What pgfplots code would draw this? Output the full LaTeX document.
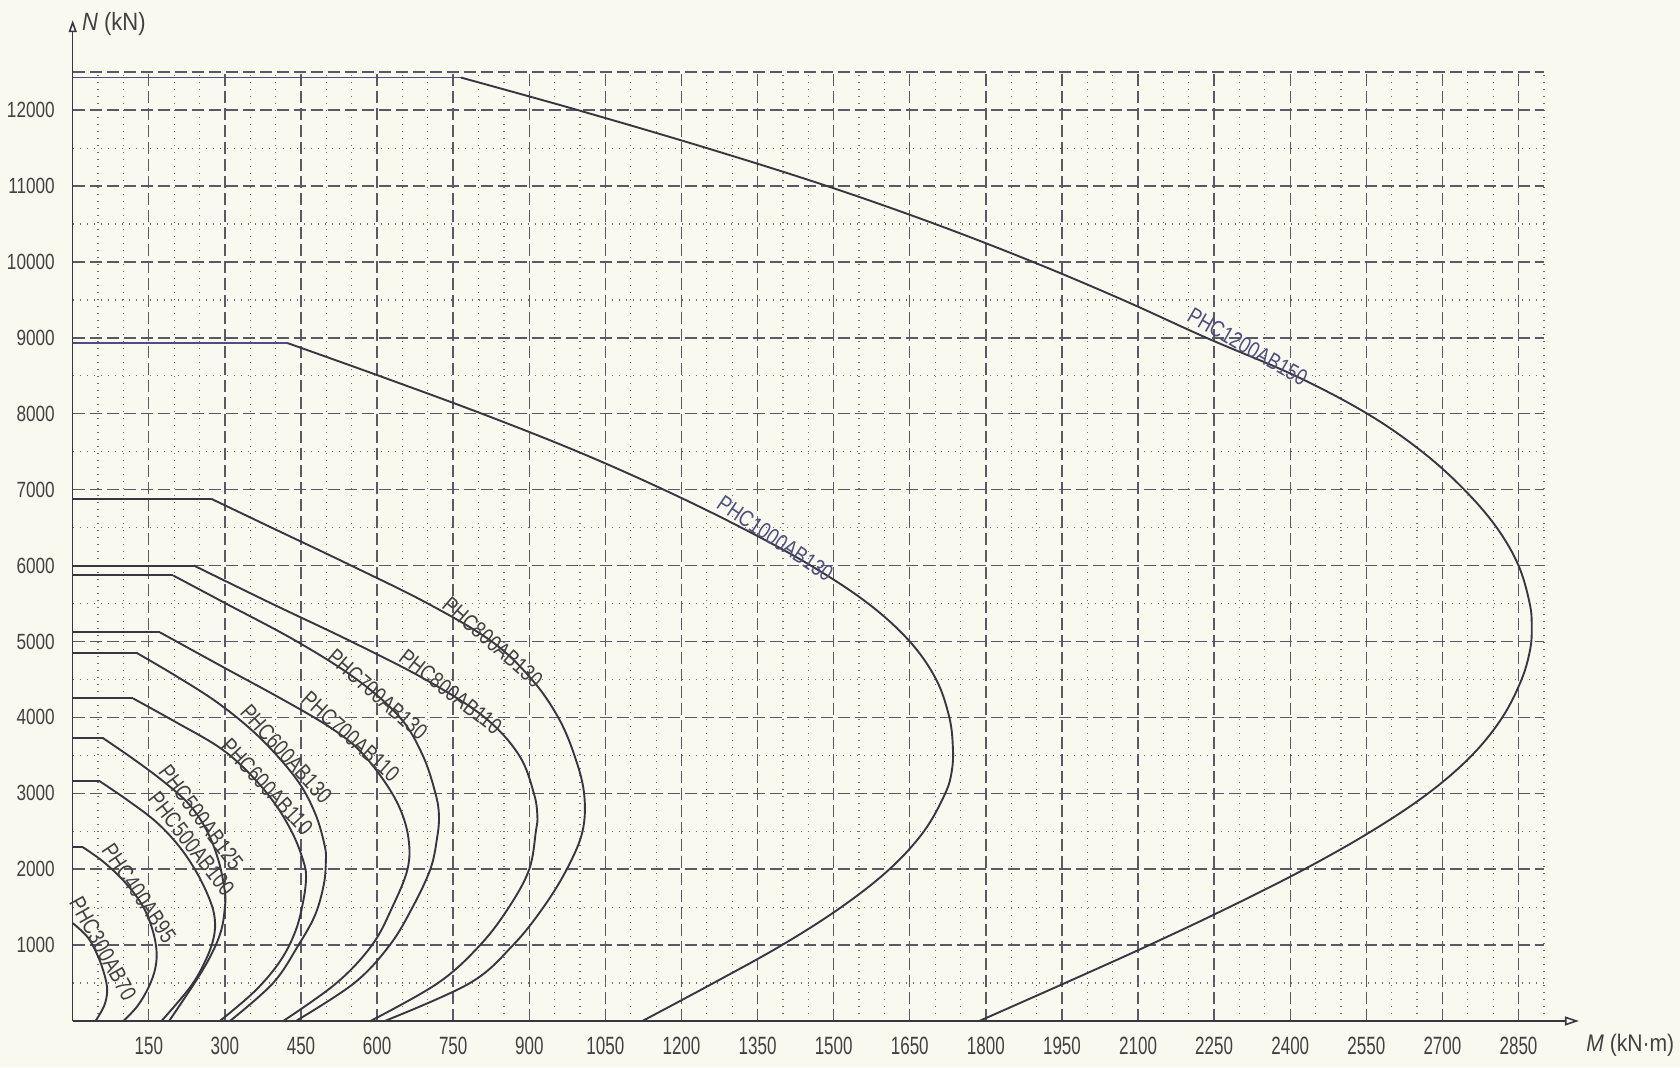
\documentclass[border=0pt]{standalone}
\usepackage{fontspec}
\setmainfont{Liberation Sans}[FakeStretch=0.8]
\newfontfamily\xtickfont{Liberation Sans}[FakeStretch=0.68]
\newfontfamily\ytickfont{Liberation Sans}[FakeStretch=0.78]
\newfontfamily\axfont{Liberation Sans}[FakeStretch=0.88]
\usepackage{pgfplots}
\pgfplotsset{compat=1.18}
\usetikzlibrary{arrows.meta}
\definecolor{bg}{RGB}{250,249,240}
\definecolor{gridc}{RGB}{90,90,102}
\definecolor{minorc}{RGB}{110,110,118}
\definecolor{curvec}{RGB}{55,55,65}
\definecolor{bluec}{RGB}{78,78,128}
\definecolor{textc}{RGB}{65,65,65}
\pgfplotsset{
  flat/.style={draw=curvec, line width=0.95pt, mark=none},
  crv/.style={draw=curvec, line width=0.95pt, mark=none, smooth, tension=0.6},
}
\begin{document}
\begin{tikzpicture}
\fill[bg] (-36.35pt,-23pt) rectangle (803.65pt,510.5pt);
\path[use as bounding box] (-36.35pt,-23pt) rectangle (803.65pt,510.5pt);
\begin{axis}[
  at={(0,0)}, anchor=south west, scale only axis,
  width=735.6pt, height=474.4pt,
  xmin=0, xmax=2900, ymin=0, ymax=12500,
  clip=false,
  scaled ticks=false,
  axis x line=bottom, axis y line=left,
  x axis line style={-{Triangle[open,length=7pt,width=4.5pt]}, shorten >=-17.5pt, line width=0.8pt, draw=curvec},
  y axis line style={-{Triangle[open,length=6pt,width=4pt]}, shorten >=-26pt, line width=0.8pt, draw=curvec},
  xtick={150,300,...,2850},
  ytick={1000,2000,...,12000},
  minor xtick={50,100,200,250,350,400,500,550,650,700,800,850,950,1000,1100,1150,1250,1300,1400,1450,1550,1600,1700,1750,1850,1900,2000,2050,2150,2200,2300,2350,2450,2500,2600,2650,2750,2800,2900},
  minor ytick={500,1500,...,11500},
  major tick length=0pt, minor tick length=0pt,
  grid=both,
  major grid style={dash pattern=on 6pt off 2.5pt, draw=gridc, line width=0.7pt},
  minor grid style={dash pattern=on 0.7pt off 2.8pt, draw=minorc, line width=0.6pt},
  xticklabel style={inner sep=0pt, anchor=north, yshift=-7.8pt, font=\xtickfont\fontsize{12.5}{13}\selectfont, text=textc},
  yticklabel style={inner sep=0pt, anchor=east, xshift=-8.8pt, font=\ytickfont\fontsize{11}{12}\selectfont, text=textc},
  /pgf/number format/assume math mode=true,
  /pgf/number format/1000 sep={},
]
\draw[dash pattern=on 6pt off 2.5pt, draw=gridc, line width=0.7pt] (axis cs:0,12500) -- (axis cs:2900,12500);

% PHC1200AB150
\addplot[flat, draw=bluec] coordinates {(0,12430) (765,12430)};
\addplot[crv] coordinates {(765,12430) (996,12000) (1250,11500) (1487,11000) (1700,10500) (1893,10000) (2070,9500) (2235,9000) (2410,8500) (2552,8000) (2660,7500) (2743,7000) (2807,6500) (2850,6000) (2872,5500) (2876,5200) (2873,4900) (2856,4500) (2818,4000) (2758,3500) (2672,3000) (2560,2500) (2428,2000) (2280,1500) (2122,1000) (1956,500) (1787,0)};
% PHC1000AB130
\addplot[flat, draw=bluec] coordinates {(0,8930) (424,8930)};
\addplot[crv] coordinates {(424,8930) (604,8500) (807,8000) (996,7500) (1165,7000) (1318,6500) (1455,6000) (1568,5500) (1650,5000) (1702,4500) (1728,4000) (1735,3600) (1733,3300) (1720,3000) (1678,2500) (1610,2000) (1515,1500) (1398,1000) (1263,500) (1123,0)};
% PHC800AB130
\addplot[flat] coordinates {(0,6880) (273,6880)};
\addplot[crv] coordinates {(273,6880) (392,6500) (549,6000) (700,5500) (826,5000) (905,4500) (957,4000) (989,3500) (1008,3000) (1005,2500) (974,2000) (928,1500) (868,1000) (783,500) (615,0)};
% PHC800AB110
\addplot[flat] coordinates {(0,6000) (239,6000)};
\addplot[crv] coordinates {(239,6000) (392,5500) (549,5000) (695,4500) (812,4000) (880,3500) (909,3000) (916,2700) (913,2500) (900,2000) (860,1500) (803,1000) (720,500) (587,0)};
% PHC700AB130
\addplot[flat] coordinates {(0,5870) (198,5870)};
\addplot[crv] coordinates {(198,5870) (302,5500) (442,5000) (560,4500) (645,4000) (690,3500) (715,3000) (722,2700) (718,2400) (705,2000) (670,1500) (625,1000) (555,500) (440,0)};
% PHC700AB110
\addplot[flat] coordinates {(0,5120) (172,5120)};
\addplot[crv] coordinates {(172,5120) (300,4650) (410,4250) (500,3900) (560,3600) (610,3200) (645,2800) (662,2400) (660,2000) (630,1500) (590,1000) (520,500) (415,0)};
% PHC600AB130
\addplot[flat] coordinates {(0,4850) (126,4850)};
\addplot[crv] coordinates {(126,4850) (200,4560) (280,4220) (350,3850) (405,3480) (450,3100) (480,2700) (497,2300) (499,2100) (495,1800) (478,1400) (445,1000) (395,500) (310,0)};
% PHC600AB110
\addplot[flat] coordinates {(0,4250) (119,4250)};
\addplot[crv] coordinates {(119,4250) (200,3950) (290,3600) (350,3250) (400,2850) (435,2450) (455,2100) (460,1900) (455,1600) (440,1200) (410,800) (360,400) (290,0)};
% PHC500AB125
\addplot[flat] coordinates {(0,3730) (59,3730)};
\addplot[crv] coordinates {(59,3730) (120,3450) (180,3150) (230,2850) (265,2500) (288,2100) (300,1700) (300,1500) (293,1200) (275,900) (245,550) (190,0)};
% PHC500AB100
\addplot[flat] coordinates {(0,3160) (53,3160)};
\addplot[crv] coordinates {(53,3160) (110,2900) (165,2620) (210,2300) (245,1950) (270,1600) (280,1350) (278,1100) (262,800) (232,450) (175,0)};
% PHC400AB95
\addplot[flat] coordinates {(0,2290) (20,2290)};
\addplot[crv] coordinates {(20,2290) (60,2100) (100,1850) (135,1550) (155,1250) (165,950) (163,700) (150,450) (128,200) (100,0)};
% PHC300AB70
\addplot[crv] coordinates {(0,1290) (30,1100) (50,850) (63,600) (68,400) (62,200) (45,0)};

% labels
\begin{scope}[every node/.style={font=\fontsize{11.4}{12}\selectfont, text=textc, inner sep=0pt}]
\node[rotate=-30, text=bluec] at (axis cs:2316,8883) {PHC1200AB150};
\node[rotate=-34, text=bluec] at (axis cs:1385,6357) {PHC1000AB130};
\node[rotate=-41] at (axis cs:828,4989) {PHC800AB130};
\node[rotate=-38] at (axis cs:745,4340) {PHC800AB110};
\node[rotate=-41] at (axis cs:601,4300) {PHC700AB130};
\node[rotate=-42] at (axis cs:548,3750) {PHC700AB110};
\node[rotate=-48] at (axis cs:421,3515) {PHC600AB130};
\node[rotate=-47] at (axis cs:383,3088) {PHC600AB110};
\node[rotate=-53] at (axis cs:253,2685) {PHC500AB125};
\node[rotate=-52] at (axis cs:234,2335) {PHC500AB100};
\node[rotate=-56] at (axis cs:131,1683) {PHC400AB95};
\node[rotate=-61] at (axis cs:60,953) {PHC300AB70};
\end{scope}
\node[anchor=west, inner sep=0pt, text=textc, font=\axfont\fontsize{12.5}{13}\selectfont] at ([xshift=4.5pt, yshift=24pt] rel axis cs:0,1) {\textit{N} (kN)};
\node[anchor=west, inner sep=0pt, text=textc, font=\axfont\fontsize{12}{13}\selectfont] at ([xshift=21pt, yshift=-12pt] rel axis cs:1,0) {\textit{M} (kN·m)};
\end{axis}
\end{tikzpicture}
\end{document}
